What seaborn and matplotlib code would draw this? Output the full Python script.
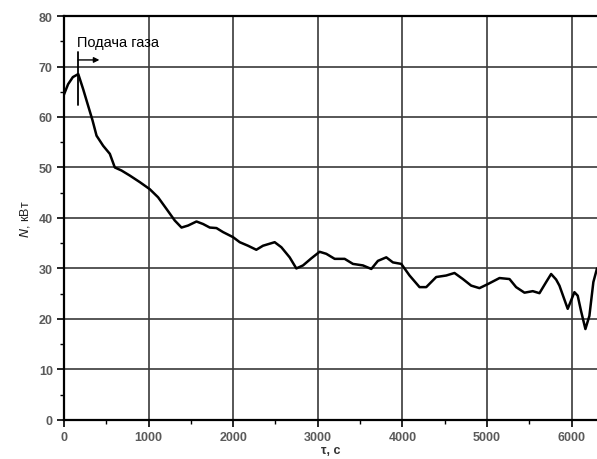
import matplotlib
matplotlib.use("Agg")
import matplotlib.pyplot as plt
import seaborn as sns
import pandas as pd
from matplotlib.ticker import MultipleLocator

time_s = [0, 50, 106, 170, 228, 287, 339, 386, 464, 543, 602, 681, 779, 897,
          1015, 1113, 1212, 1310, 1390, 1468, 1567, 1645, 1724, 1803, 1881,
          1999, 2078, 2176, 2274, 2353, 2432, 2491, 2570, 2668, 2747, 2826,
          2924, 3022, 3101, 3200, 3318, 3416, 3534, 3633, 3711, 3810, 3888,
          3987, 4085, 4203, 4282, 4400, 4518, 4616, 4715, 4813, 4911, 5010,
          5148, 5266, 5344, 5443, 5541, 5620, 5699, 5758, 5817, 5856, 5954,
          6033, 6072, 6111, 6163, 6210, 6257, 6300]
power_kw = [64.4, 66.5, 67.9, 68.5, 65.5, 62.2, 59.3, 56.3, 54.3, 52.7, 50.0,
            49.4, 48.4, 47.1, 45.7, 44.1, 41.8, 39.5, 38.1, 38.5, 39.3, 38.8,
            38.1, 38.0, 37.2, 36.2, 35.2, 34.5, 33.7, 34.5, 34.9, 35.2, 34.2,
            32.2, 30.0, 30.6, 32.0, 33.3, 32.9, 31.9, 31.9, 30.9, 30.6, 29.9,
            31.5, 32.2, 31.2, 30.9, 28.6, 26.3, 26.3, 28.3, 28.6, 29.1, 27.9,
            26.6, 26.1, 26.9, 28.1, 27.9, 26.3, 25.2, 25.5, 25.1, 27.3, 28.9,
            27.8, 26.6, 22.0, 25.3, 24.6, 21.6, 18.0, 20.6, 27.3, 30.0]

x_ticks = [0, 1000, 2000, 3000, 4000, 5000, 6000]
y_ticks = [0, 10, 20, 30, 40, 50, 60, 70, 80]
annotation = "Подача газа"
gas_time = 169

sns.set_theme(style="white")
plt.rcParams['font.family'] = ['Liberation Sans', 'DejaVu Sans']

fig = plt.figure(figsize=(5.97, 4.60), dpi=100)
ax = fig.add_axes([0.107, 0.085, 0.893, 0.878])

df = pd.DataFrame({"t": time_s, "N": power_kw})
sns.lineplot(data=df, x="t", y="N", ax=ax, color="black", linewidth=1.8, sort=False)

ax.set_xlim(0, 6300)
ax.set_ylim(0, 80)
ax.set_xticks(x_ticks)
ax.set_yticks(y_ticks)
ax.xaxis.set_minor_locator(MultipleLocator(500))
ax.yaxis.set_minor_locator(MultipleLocator(5))
ax.grid(True, which="major", color="#3a3a3a", linewidth=1.2)
ax.set_axisbelow(True)
ax.tick_params(axis="both", which="major", direction="out", length=5, width=1.2,
               color="black", labelsize=9, labelcolor="#5a5a5a", pad=3,
               bottom=True, left=True)
ax.tick_params(axis="both", which="minor", direction="out", length=3, width=1.0,
               color="black", bottom=True, left=True)
for lab in ax.get_xticklabels() + ax.get_yticklabels():
    lab.set_fontweight("bold")

for side in ["left", "bottom", "top"]:
    ax.spines[side].set_visible(True)
    ax.spines[side].set_color("black")
    ax.spines[side].set_linewidth(1.6)
ax.spines["right"].set_visible(False)

ax.set_xlabel("τ, с", fontsize=9, fontweight="bold", color="#333333", labelpad=1)
ax.set_ylabel("$\\mathit{N}$, кВт", fontsize=9, color="#222222", labelpad=5)

ax.plot([gas_time, gas_time], [62.4, 72.9], color="black", linewidth=1.3)
ax.annotate("", xy=(420, 71.3), xytext=(gas_time, 71.3),
            arrowprops=dict(arrowstyle="-|>", color="black", lw=1.0,
                            mutation_scale=8, shrinkA=0, shrinkB=0))
ax.text(gas_time - 10, 74.9, annotation, fontsize=10.5, color="black",
        va="center", ha="left")

fig.savefig("out.png", dpi=100)
